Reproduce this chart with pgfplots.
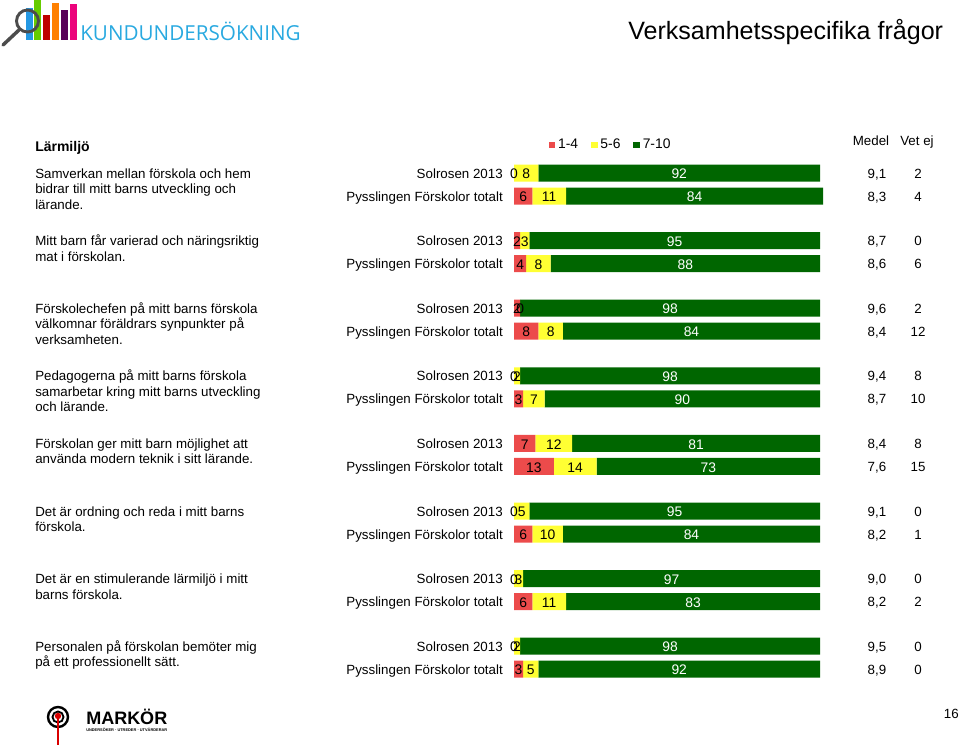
\documentclass[border=0pt]{standalone}
\usepackage{graphicx}
\usepackage{fontspec}
\setmainfont{Liberation Sans}
\newfontfamily\logofont{Open Sans}
\usepackage{pgfplots}
\usepackage{pgfplotstable}
\pgfplotsset{compat=1.18}
\definecolor{cRed}{HTML}{EC4B4B}
\definecolor{cYel}{HTML}{FFFF33}
\definecolor{cGrn}{HTML}{006600}
\definecolor{cLogo}{HTML}{29A9E0}
\newcommand\txt{\fontsize{10}{12}\selectfont}

% y = row centre in pixels from the top; r = 1-4, yel = 5-6, g = 7-10
\pgfplotstableread{
y     r  yel g
173   0  8   92
196   6  11  84
240.6 2  3   95
263.6 4  8   88
308.2 2  0   98
331.2 8  8   84
375.8 0  2   98
398.8 3  7   90
443.4 7  12  81
466.4 13 14  73
511   0  5   95
534   6  10  84
578.6 0  3   97
601.6 6  11  83
646.2 0  2   98
669.2 3  5   92
}\data

\pgfplotsset{barframe/.style={
  at={(385.5pt,-97.5pt)}, anchor=north west,
  scale only axis, width=229.5pt, height=420pt,
  xmin=0, xmax=100, ymin=130, ymax=690, y dir=reverse,
  hide axis, clip=false}}
\pgfplotsset{seglabel/.style={draw=none, mark=none, point meta=explicit symbolic,
  nodes near coords={\makebox[0pt]{\smash{\pgfplotspointmeta}}},
  every node near coord/.append style={inner sep=0pt,
    font=\fontsize{10.4}{12}\selectfont, yshift=-4.9pt, text=#1}}}

\begin{document}
\begin{tikzpicture}
\begin{scope}[x=0.75pt,y=-0.75pt]
\useasboundingbox (0,0) rectangle (960,746);

% logo top left
\fill[cLogo!90!blue] (26,8) rectangle (33,40);
\fill[green!50!yellow!80!black] (34,0) rectangle (41,40);
\fill[red!75!black] (43,15) rectangle (50,40);
\fill[orange] (52,3) rectangle (59,40);
\fill[violet!70!black] (61,10) rectangle (68,40);
\fill[magenta!85!red] (70,4) rectangle (77,40);
\draw[line width=2.2pt,black!70] (27.5,21) circle[radius=11];
\draw[line width=2.6pt,black!70,line cap=round] (19,30) -- (3,45);
\node[anchor=base west,inner sep=0,text=cLogo] at (80,40) {\logofont\fontsize{15.5}{16}\selectfont KUNDUNDERSÖKNING};

% title
\node[anchor=base west,inner sep=0] at (628,39) {\fontsize{18.8}{20}\selectfont Verksamhetsspecifika frågor};

% section heading and column headers
\node[anchor=base west,inner sep=0] at (35,151) {\fontsize{10.5}{12}\selectfont\bfseries Lärmiljö};
\node[anchor=base,inner sep=0] at (871,145) {\txt Medel};
\node[anchor=base,inner sep=0] at (917,145) {\txt Vet ej};

% questions
\begin{scope}[every node/.style={anchor=base west,inner sep=0,font=\txt}]
\node at (35,178) {Samverkan mellan förskola och hem};
\node at (35,193.5) {bidrar till mitt barns utveckling och};
\node at (35,209) {lärande.};
\node at (35,245.6) {Mitt barn får varierad och näringsriktig};
\node at (35,261.1) {mat i förskolan.};
\node at (35,313.2) {Förskolechefen på mitt barns förskola};
\node at (35,328.7) {välkomnar föräldrars synpunkter på};
\node at (35,344.2) {verksamheten.};
\node at (35,380.8) {Pedagogerna på mitt barns förskola};
\node at (35,396.3) {samarbetar kring mitt barns utveckling};
\node at (35,411.8) {och lärande.};
\node at (35,448.4) {Förskolan ger mitt barn möjlighet att};
\node at (35,463.9) {använda modern teknik i sitt lärande.};
\node at (35,516) {Det är ordning och reda i mitt barns};
\node at (35,531.5) {förskola.};
\node at (35,583.6) {Det är en stimulerande lärmiljö i mitt};
\node at (35,599.1) {barns förskola.};
\node at (35,651.2) {Personalen på förskolan bemöter mig};
\node at (35,666.7) {på ett professionellt sätt.};
\end{scope}

% group labels, Medel, Vet ej
\foreach \y/\ma/\mb/\va/\vb in {173/{9,1}/{8,3}/2/4, 240.6/{8,7}/{8,6}/0/6,
    308.2/{9,6}/{8,4}/2/12, 375.8/{9,4}/{8,7}/8/10, 443.4/{8,4}/{7,6}/8/15,
    511/{9,1}/{8,2}/0/1, 578.6/{9,0}/{8,2}/0/2, 646.2/{9,5}/{8,9}/0/0} {
  \node[anchor=base east,inner sep=0,font=\txt] at (503,\y+5) {Solrosen 2013};
  \node[anchor=base east,inner sep=0,font=\txt] at (503,\y+28) {Pysslingen Förskolor totalt};
  \node[anchor=base,inner sep=0,font=\txt] at (877,\y+5) {\ma};
  \node[anchor=base,inner sep=0,font=\txt] at (877,\y+28) {\mb};
  \node[anchor=base,inner sep=0,font=\txt] at (918,\y+5) {\va};
  \node[anchor=base,inner sep=0,font=\txt] at (918,\y+28) {\vb};
}

% logo bottom left
\draw[line width=1.8pt] (58,717) circle[radius=10];
\draw[line width=1.4pt] (58,717) circle[radius=5.5];
\draw[line width=1.2pt,red!85!black] (58,719) -- (58,745);
\fill[red!85!black] (58,716) circle[radius=3.2];
\node[anchor=base west,inner sep=0] at (86,724) {\fontsize{13.5}{14}\selectfont\bfseries MARKÖR};
\node[anchor=base west,inner sep=0] at (86,731.5) {\resizebox{60.75pt}{!}{\bfseries UNDERSÖKER · UTREDER · UTVÄRDERAR}};

% page number
\node[anchor=base east,inner sep=0,font=\txt] at (959,718) {16};
\end{scope}

% bars: x 0..100 spans pixels 514..820, y in pixels from the top
\begin{axis}[barframe,
  xbar stacked, bar width=12.75pt,
  legend columns=-1,
  legend style={at={(0.112,0.9732)}, anchor=west, draw=none, fill=none,
    inner sep=0pt, font=\fontsize{10.4}{12}\selectfont,
    /tikz/every even column/.append style={column sep=7.5pt}},
  legend image code/.code={\fill[#1] (0pt,-2.6pt) rectangle (5.2pt,2.6pt);},
]
\addplot[fill=cRed, draw=none] table[x=r, y=y] {\data};
\addplot[fill=cYel, draw=none] table[x=yel, y=y] {\data};
\addplot[fill=cGrn, draw=none] table[x=g, y=y] {\data};
\legend{1-4, 5-6, 7-10}
\end{axis}

% value labels in the middle of each segment
\begin{axis}[barframe]
\addplot[seglabel=black] table[x expr=\thisrow{r}/2, y=y, meta=r] {\data};
\addplot[seglabel=black] table[x expr=\thisrow{r}+\thisrow{yel}/2, y=y, meta=yel] {\data};
\addplot[seglabel=white] table[x expr=\thisrow{r}+\thisrow{yel}+\thisrow{g}/2, y=y, meta=g] {\data};
\end{axis}
\end{tikzpicture}
\end{document}
